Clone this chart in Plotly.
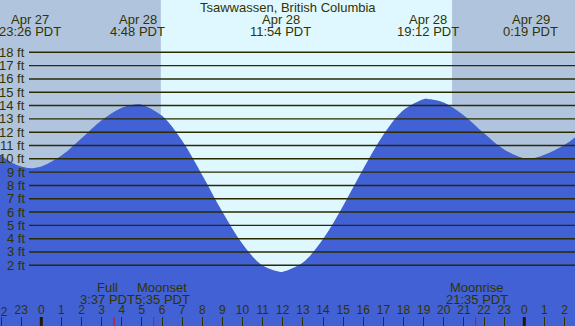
import plotly.graph_objects as go

# ---- data (hours relative to Apr 28 00:00 PDT) ----
tide_hours = [-2.1, -1.5, -1.0, -0.57, 0, 1, 2, 3, 4, 4.8, 5, 6, 7, 8, 9, 10, 11, 11.9,
              12, 13, 14, 15, 16, 17, 18, 19, 19.2, 20, 21, 22, 23, 24, 24.32, 25, 26, 26.6]
tide_ft = [10.35, 9.75, 9.42, 9.3, 9.43, 10.24, 11.54, 12.89, 13.84, 14.1, 14.07, 13.23,
           11.35, 8.77, 6.02, 3.60, 1.98, 1.5, 1.51, 2.21, 3.98, 6.48, 9.25, 11.80, 13.66,
           14.48, 14.5, 14.23, 13.26, 11.92, 10.70, 10.04, 10.0, 10.3, 11.05, 11.7]

extreme_hours = [-0.567, 4.8, 11.9, 19.2, 24.317]
extreme_dates = ["Apr 27", "Apr 28", "Apr 28", "Apr 28", "Apr 29"]
extreme_times = ["23:26 PDT", "4:48 PDT", "11:54 PDT", "19:12 PDT", "0:19 PDT"]

sunrise_hour = 5.94
sunset_hour = 20.41

moon_hours = [3.617, 5.583, 21.583]
moon_names = ["Full", "Moonset", "Moonrise"]
moon_times = ["3:37 PDT", "5:35 PDT", "21:35 PDT"]
moon_shift = [-7, 8.5, 1]

midnight_hours = [0, 24]
hour_ticks = list(range(-2, 27))
hour_labels = [str(h % 24) for h in hour_ticks]
edge_hour = -2          # label clipped at left edge
edge_label = "22"

ft_levels = list(range(2, 19))
ft_labels = [f"{v} ft" for v in ft_levels]

title = "Tsawwassen, British Columbia"

# ---- style ----
W, H = 575, 326
X_RANGE = [-2.052, 26.52]
Y_RANGE = [-2.56, 21.93]
NIGHT = "#b0c4de"
DAY = "#dff7ff"
WATER = "#4161d4"
INK = "#333300"
LINE = "#2b2b00"
FONT = "Liberation Sans, Arial, sans-serif"

fig = go.Figure()

# baseline for fill
fig.add_trace(go.Scatter(x=[tide_hours[0], tide_hours[-1]], y=[Y_RANGE[0] - 1] * 2,
                         mode="lines", line=dict(width=0), hoverinfo="skip",
                         showlegend=False))
fig.add_trace(go.Scatter(x=tide_hours, y=tide_ft, mode="lines",
                         line=dict(width=0, shape="spline", color=WATER),
                         fill="tonexty", fillcolor=WATER, showlegend=False))

shapes = []
# night / day backgrounds
shapes.append(dict(type="rect", xref="paper", yref="paper", x0=0, x1=1, y0=0, y1=1,
                   fillcolor=NIGHT, line=dict(width=0), layer="below"))
shapes.append(dict(type="rect", xref="x", yref="paper", x0=sunrise_hour, x1=sunset_hour,
                   y0=0, y1=1, fillcolor=DAY, line=dict(width=0), layer="below"))
# horizontal level lines
for v in ft_levels:
    shapes.append(dict(type="line", xref="paper", yref="y", x0=29 / W, x1=1, y0=v, y1=v,
                       line=dict(color=LINE, width=1.4)))
# midnight ticks
for h in midnight_hours:
    shapes.append(dict(type="line", xref="x", yref="paper", x0=h, x1=h, y0=0, y1=9 / H,
                       line=dict(color="#221a00", width=3)))
# moon ticks
for h in moon_hours:
    shapes.append(dict(type="line", xref="x", yref="paper", x0=h, x1=h, y0=0, y1=9 / H,
                       line=dict(color="#ff0000", width=1)))

ann = []
ann.append(dict(text=title, x=0.5, xref="paper", y=1 - 7.5 / H, yref="paper",
                showarrow=False, xanchor="center", yanchor="middle",
                font=dict(size=13, color=INK, family=FONT)))
for h, d, t in zip(extreme_hours, extreme_dates, extreme_times):
    ann.append(dict(text=d, x=h, xref="x", y=1 - 19.5 / H, yref="paper", showarrow=False,
                    xanchor="center", yanchor="middle",
                    font=dict(size=13, color=INK, family=FONT)))
    ann.append(dict(text=t, x=h, xref="x", y=1 - 31.7 / H, yref="paper", showarrow=False,
                    xanchor="center", yanchor="middle",
                    font=dict(size=13, color=INK, family=FONT)))
for h, n, t, s in zip(moon_hours, moon_names, moon_times, moon_shift):
    ann.append(dict(text=n, x=h, xref="x", xshift=s, y=1 - 287.3 / H, yref="paper",
                    showarrow=False, xanchor="center", yanchor="middle",
                    font=dict(size=13, color=INK, family=FONT)))
    ann.append(dict(text=t, x=h, xref="x", xshift=s, y=1 - 299.3 / H, yref="paper",
                    showarrow=False, xanchor="center", yanchor="middle",
                    font=dict(size=13, color=INK, family=FONT)))
for v, lab in zip(ft_levels, ft_labels):
    ann.append(dict(text=lab, x=27 / W, xref="paper", y=v, yref="y", showarrow=False,
                    xanchor="right", yanchor="middle",
                    font=dict(size=13, color=INK, family=FONT)))
ann.append(dict(text=edge_label, x=edge_hour, xref="x", y=1 - 312 / H, yref="paper",
                showarrow=False, xanchor="center", yanchor="middle",
                font=dict(size=12, color=INK, family=FONT)))

fig.update_layout(
    width=W, height=H, margin=dict(l=0, r=0, t=0, b=0),
    paper_bgcolor=NIGHT, plot_bgcolor=NIGHT,
    shapes=shapes, annotations=ann, showlegend=False,
    xaxis=dict(range=X_RANGE, showgrid=False, zeroline=False, showline=False,
               tickvals=hour_ticks, ticktext=hour_labels,
               ticks="inside", ticklen=9, tickwidth=1, tickcolor=INK,
               ticklabelposition="inside", ticklabelstandoff=0,
               tickfont=dict(size=12, color=INK, family=FONT), fixedrange=True),
    yaxis=dict(range=Y_RANGE, visible=False, fixedrange=True),
)

fig.write_html("out.html", config={"displayModeBar": False},
               post_script="document.body.style.margin='0';document.body.style.overflow='hidden';")
